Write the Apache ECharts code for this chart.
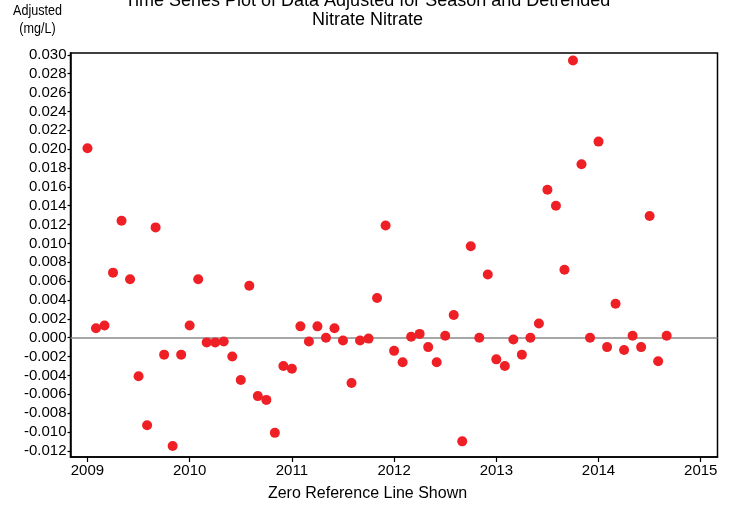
<!DOCTYPE html>
<html>
<head>
<meta charset="utf-8">
<script src="https://cdn.jsdelivr.net/npm/echarts@6/dist/echarts.min.js"></script>
<style>
html,body{margin:0;padding:0;background:#fff;}
#chart{width:735px;height:507px;}
</style>
</head>
<body>
<div id="chart"></div>
<script>
// Monthly observations, Jan 2009 .. Sep 2014
const startYear = 2009;
const adjustedValues = [
  0.0201, 0.0010, 0.0013, 0.0069, 0.0124, 0.0062, -0.0041, -0.0093, 0.0117, -0.0018, -0.0115, -0.0018,
  0.0013, 0.0062, -0.0005, -0.0005, -0.0004, -0.0020, -0.0045, 0.0055, -0.0062, -0.0066, -0.0101, -0.0030,
  -0.0033, 0.0012, -0.0004, 0.0012, 0.0000, 0.0010, -0.0003, -0.0048, -0.0003, -0.0001, 0.0042, 0.0119,
  -0.0014, -0.0026, 0.0001, 0.0004, -0.0010, -0.0026, 0.0002, 0.0024, -0.0110, 0.0097, 0.0000, 0.0067,
  -0.0023, -0.0030, -0.0002, -0.0018, 0.0000, 0.0015, 0.0157, 0.0140, 0.0072, 0.0294, 0.0184, 0.0000,
  0.0208, -0.0010, 0.0036, -0.0013, 0.0002, -0.0010, 0.0129, -0.0025, 0.0002
];
const xTickYears = [2009, 2010, 2011, 2012, 2013, 2014, 2015];
const yTickValues = [-0.012, -0.010, -0.008, -0.006, -0.004, -0.002, 0.000, 0.002, 0.004, 0.006, 0.008,
  0.010, 0.012, 0.014, 0.016, 0.018, 0.020, 0.022, 0.024, 0.026, 0.028, 0.030];
const referenceValue = 0;

const timeValues = adjustedValues.map((_, i) => startYear + i / 12);
const points = adjustedValues.map((v, i) => [timeValues[i], v]);

const FONT = '"Liberation Sans", Arial, sans-serif';
const chart = echarts.init(document.getElementById('chart'), null, {renderer: 'canvas'});
chart.setOption({
  animation: false,
  backgroundColor: '#fff',
  title: [
    {
      text: 'Time Series Plot of Data Adjusted for Season and Detrended\nNitrate Nitrate',
      left: 367.5,
      top: -8,
      padding: 0,
      textAlign: 'center',
      textStyle: {fontFamily: FONT, fontSize: 18, fontWeight: 'normal', color: '#000', lineHeight: 19}
    },
    {
      text: 'Zero Reference Line Shown',
      left: 367.5,
      top: 486,
      padding: 0,
      textAlign: 'center',
      textStyle: {fontFamily: FONT, fontSize: 16, fontWeight: 'normal', color: '#000'}
    }
  ],
  graphic: [{
    type: 'text',
    x: 37.5,
    y: 20,
    scaleX: 0.84,
    style: {
      text: 'Adjusted\n(mg/L)',
      align: 'center',
      verticalAlign: 'middle',
      fontFamily: FONT,
      fontSize: 15,
      lineHeight: 18,
      fill: '#000'
    }
  }],
  grid: {
    left: 70.5, right: 17.5, top: 53, bottom: 50,
    show: true, borderColor: '#000', borderWidth: 1.5, backgroundColor: 'transparent'
  },
  xAxis: {
    type: 'value',
    min: 2008.834,
    max: 2015.164,
    axisLine: {show: true, onZero: false, lineStyle: {color: '#000', width: 1.5}},
    axisTick: {show: true, customValues: xTickYears, length: 5, lineStyle: {color: '#000', width: 1.2}},
    axisLabel: {customValues: xTickYears, fontFamily: FONT, fontSize: 15, color: '#000', margin: 6,
      formatter: v => String(Math.round(v))},
    splitLine: {show: false}
  },
  yAxis: {
    type: 'value',
    min: -0.01266,
    max: 0.0302,
    axisLine: {show: true, onZero: false, lineStyle: {color: '#000', width: 1.5}},
    axisTick: {show: true, customValues: yTickValues, length: 3, lineStyle: {color: '#000', width: 1.2}},
    axisLabel: {customValues: yTickValues, fontFamily: FONT, fontSize: 15, color: '#000', margin: 4,
      formatter: v => v.toFixed(3)},
    splitLine: {show: false}
  },
  series: [{
    type: 'scatter',
    data: points,
    symbol: 'circle',
    symbolSize: 10,
    itemStyle: {color: '#ee2026', opacity: 1},
    z: 3,
    markLine: {
      silent: true,
      symbol: 'none',
      label: {show: false},
      lineStyle: {color: '#8a8a8a', width: 1.5, type: 'solid', opacity: 1},
      data: [{yAxis: referenceValue}],
      z: 1
    }
  }]
});
</script>
</body>
</html>
